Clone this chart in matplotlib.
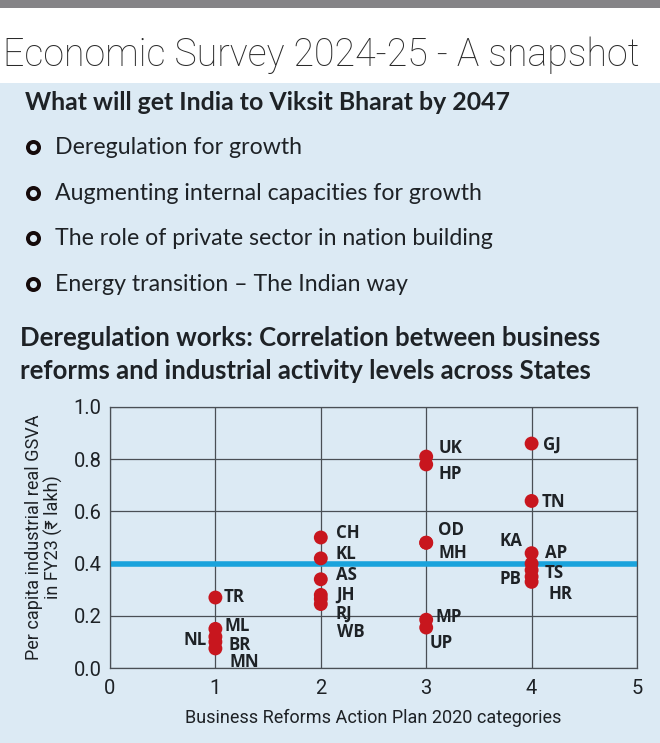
import matplotlib
matplotlib.use("Agg")
import matplotlib.pyplot as plt
from matplotlib.patches import Rectangle

# ---- data ----
states = ["TR", "ML", "NL", "BR", "MN",
          "CH", "KL", "AS", "JH", "RJ", "WB",
          "UK", "HP", "OD", "MH", "MP", "UP",
          "GJ", "TN", "AP", "KA", "TS", "PB", "HR"]
category = [1, 1, 1, 1, 1,
            2, 2, 2, 2, 2, 2,
            3, 3, 3, 3, 3, 3,
            4, 4, 4, 4, 4, 4, 4]
gsva = [0.27, 0.15, 0.12, 0.10, 0.075,
        0.50, 0.42, 0.34, 0.28, 0.265, 0.245,
        0.81, 0.78, 0.48, 0.48, 0.185, 0.155,
        0.86, 0.64, 0.44, 0.40, 0.375, 0.35, 0.33]
threshold = 0.4

title = "Economic Survey 2024-25 - A snapshot"
heading = "What will get India to Viksit Bharat by 2047"
bullets = ["Deregulation for growth",
           "Augmenting internal capacities for growth",
           "The role of private sector in nation building",
           "Energy transition \u2013 The Indian way"]
chart_title = ["Deregulation works: Correlation between business",
               "reforms and industrial activity levels across States"]
x_label = "Business Reforms Action Plan 2020 categories"
y_label = "Per capita industrial real GSVA\nin FY23 (\u20b9 lakh)"

# label placement: (x offset in px, label y value)
label_layout = {
    "TR": (8, 0.272), "ML": (9, 0.16), "NL": (-9, 0.107), "BR": (13, 0.09), "MN": (14, 0.022),
    "CH": (15, 0.518), "KL": (15, 0.438), "AS": (15, 0.357), "JH": (15, 0.281),
    "RJ": (15, 0.209), "WB": (16, 0.139),
    "UK": (12, 0.842), "HP": (12, 0.743), "OD": (12, 0.529), "MH": (12, 0.439),
    "MP": (9, 0.197), "UP": (3, 0.097),
    "GJ": (11, 0.857), "TN": (10, 0.637), "AP": (13, 0.439), "KA": (-9, 0.487),
    "TS": (13, 0.365), "PB": (-10, 0.341), "HR": (17, 0.284),
}

W, H = 660, 743
BG = "#dceaf4"
INK = "#1e2226"
COND = ["Liberation Sans Narrow", "Roboto", "DejaVu Sans"]

fig = plt.figure(figsize=(W / 100, H / 100), dpi=100)
fig.patch.set_facecolor(BG)


def fx(px):
    return px / W


def fy(py):
    return 1 - py / H


# header bands
fig.patches.append(Rectangle((0, fy(8)), 1, 8 / H, transform=fig.transFigure,
                             facecolor="#858487", edgecolor="none"))
fig.patches.append(Rectangle((0, fy(83)), 1, 75 / H, transform=fig.transFigure,
                             facecolor="white", edgecolor="none"))

fig.text(fx(3), fy(66), title, fontsize=27, fontweight="light", color="#2a2a2a",
         family=["Roboto", "DejaVu Sans"], va="baseline")

fig.text(fx(25), fy(110), heading, fontsize=17.9, fontweight="bold", color=INK,
         family=["Lato", "DejaVu Sans"], va="baseline")
for i, b in enumerate(bullets):
    yb = 154 + i * 45.7
    fig.text(fx(55), fy(yb), b, fontsize=16.7, color=INK,
             family=["Lato", "DejaVu Sans"], va="baseline")
    fig.add_artist(plt.Line2D([fx(33)], [fy(yb - 7)], marker="o", markersize=8,
                              markerfacecolor=BG, markeredgecolor="#150a0a",
                              markeredgewidth=2.8, transform=fig.transFigure))

for i, line in enumerate(chart_title):
    fig.text(fx(20), fy(346 + i * 33), line, fontsize=18.5, fontweight="bold",
             color=INK, family=["Lato", "DejaVu Sans"], va="baseline")

# ---- scatter ----
ax = fig.add_axes([fx(110), fy(668), fx(637) - fx(110), (668 - 407) / H])
ax.set_facecolor(BG)
ax.set_xlim(0, 5)
ax.set_ylim(0, 1.0)
ax.set_xticks(range(0, 6))
ax.set_yticks([0, 0.2, 0.4, 0.6, 0.8, 1.0])
ax.set_yticklabels([f"{v:.1f}" for v in ax.get_yticks()])
ax.grid(True, color="#4a4f55", linewidth=0.9)
ax.set_axisbelow(True)
for s in ax.spines.values():
    s.set_color("#4a4f55")
    s.set_linewidth(0.9)
ax.tick_params(length=0, pad=6, labelsize=14.5, labelcolor=INK)
ax.tick_params(axis="x", pad=8)
for lab in ax.get_xticklabels() + ax.get_yticklabels():
    lab.set_family(COND)

ax.axhline(threshold, color="#1aa3dc", linewidth=4, zorder=2)
ax.scatter(category, gsva, s=100, color="#c8161e", edgecolor="none", zorder=3)

for st, xv, yv in zip(states, category, gsva):
    dx, ly = label_layout[st]
    ax.annotate(st, (xv, ly), xytext=(dx * 0.72, 0), textcoords="offset points",
                ha="left" if dx > 0 else "right", va="center",
                fontsize=12.2, fontweight="bold", color=INK,
                family=["Open Sans", "DejaVu Sans"], zorder=4)

ax.set_xlabel(x_label, fontsize=13, color=INK, family=COND, labelpad=8)
ax.set_ylabel(y_label, fontsize=13, color=INK, family=COND, labelpad=8,
              linespacing=1.0)

fig.savefig("out.png", dpi=100, facecolor=fig.get_facecolor())
